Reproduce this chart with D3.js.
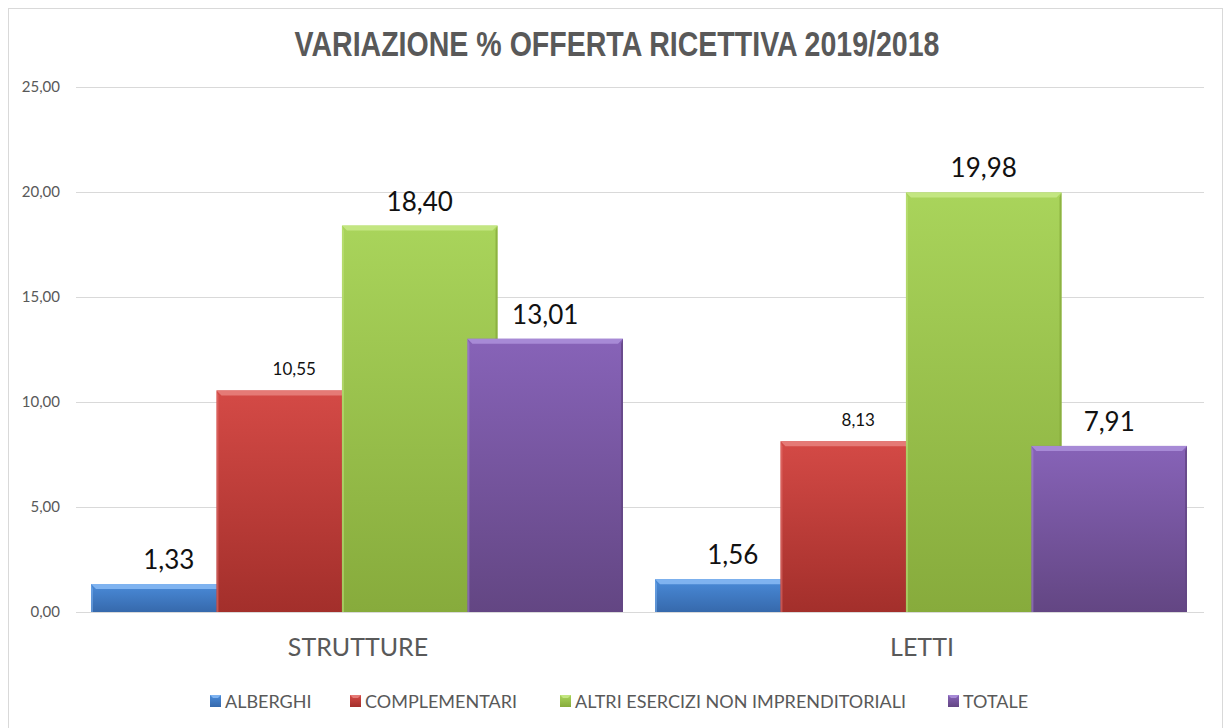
<!DOCTYPE html>
<html>
<head>
<meta charset="utf-8">
<script src="https://cdn.jsdelivr.net/npm/d3@7"></script>
<style>
  body { margin: 0; background: #fff; }
  svg text { font-family: Lato, "Open Sans", sans-serif; }
</style>
</head>
<body>
<div id="chart"></div>
<script>
// data
var categories = ['STRUTTURE', 'LETTI'];
var series = ['ALBERGHI', 'COMPLEMENTARI', 'ALTRI ESERCIZI NON IMPRENDITORIALI', 'TOTALE'];
var alberghi = [1.33, 1.56];
var complementari = [10.55, 8.13];
var altri = [18.40, 19.98];
var totale = [13.01, 7.91];
var yTicks = [0, 5, 10, 15, 20, 25];

var values = [alberghi, complementari, altri, totale];
// top / bottom colour of each series' gradient
var colTop = ['#4a8bd9', '#d44a46', '#a9d45b', '#8763b8'];
var colBot = ['#3669ac', '#a32f2b', '#87ab3c', '#634683'];
var colHi  = ['#7fb3f0', '#e57a76', '#c3e681', '#a78ad6'];
// the small labels (COMPLEMENTARI) vs the big ones
var labelSize = [26, 17, 26, 26];

var W = 1225, H = 728;
var margin = { top: 87, right: 21, bottom: 116, left: 76 };
var width = W - margin.left - margin.right,
    height = H - margin.top - margin.bottom;

var svg = d3.select('#chart').append('svg')
    .attr('width', W)
    .attr('height', H);

svg.append('rect')
    .attr('x', 8.5).attr('y', 8.5)
    .attr('width', 1214).attr('height', 740)
    .attr('fill', '#fff')
    .attr('stroke', '#d9d9d9');

var defs = svg.append('defs');
series.forEach(function (s, i) {
    var g = defs.append('linearGradient')
        .attr('id', 'grad-' + i)
        .attr('x1', 0).attr('y1', 0).attr('x2', 0).attr('y2', 1);
    g.append('stop').attr('offset', '0%').attr('stop-color', colTop[i]);
    g.append('stop').attr('offset', '100%').attr('stop-color', colBot[i]);
});

var it = d3.formatLocale({ decimal: ',', thousands: '.', grouping: [3], currency: ['€', ''] });
var fmt = it.format('.2f');

var plot = svg.append('g')
    .attr('transform', 'translate(' + margin.left + ',' + margin.top + ')');

var x0 = d3.scaleBand()
    .domain(categories)
    .range([0, width])
    .padding(0);

// bars overlap each other, hence the negative inner padding
var x1 = d3.scaleBand()
    .domain(series)
    .range([15, x0.bandwidth() - 17])
    .paddingInner(-0.24)
    .paddingOuter(0);

var y = d3.scaleLinear()
    .domain([0, 25])
    .range([height, 0]);

// grid
plot.append('g')
    .call(d3.axisLeft(y).tickValues(yTicks).tickSize(-width).tickFormat(fmt).tickPadding(16))
    .call(function (g) {
        g.select('.domain').remove();
        g.selectAll('.tick line').attr('stroke', '#d9d9d9');
        g.selectAll('.tick text')
            .attr('fill', '#595959')
            .style('font-size', '15px');
    });

// bars
categories.forEach(function (c, ci) {
    var grp = plot.append('g').attr('transform', 'translate(' + x0(c) + ',0)');
    series.forEach(function (s, si) {
        var v = values[si][ci];
        var bx = x1(s), bw = x1.bandwidth(), by = y(v), bh = y(0) - y(v);
        var b = 5;
        grp.append('rect')
            .attr('x', bx).attr('y', by)
            .attr('width', bw).attr('height', bh)
            .attr('fill', 'url(#grad-' + si + ')');
        // bevel: light top, darker right edge
        grp.append('path')
            .attr('d', 'M' + bx + ',' + by + 'L' + (bx + bw) + ',' + by +
                'L' + (bx + bw - b) + ',' + (by + Math.min(b, bh)) + 'L' + (bx + b) + ',' + (by + Math.min(b, bh)) + 'Z')
            .attr('fill', colHi[si]);
        grp.append('path')
            .attr('d', 'M' + (bx + bw) + ',' + by + 'L' + (bx + bw) + ',' + (by + bh) +
                'L' + (bx + bw - 2) + ',' + (by + bh) + 'L' + (bx + bw - 2) + ',' + (by + Math.min(b, bh)) + 'Z')
            .attr('fill', colBot[si])
            .attr('opacity', 0.8);
        grp.append('path')
            .attr('d', 'M' + bx + ',' + by + 'L' + bx + ',' + (by + bh) +
                'L' + (bx + 2) + ',' + (by + bh) + 'L' + (bx + 2) + ',' + (by + Math.min(b, bh)) + 'Z')
            .attr('fill', colHi[si])
            .attr('opacity', 0.5);
        grp.append('text')
            .attr('x', bx + bw / 2)
            .attr('y', by - 15)
            .attr('text-anchor', 'middle')
            .attr('fill', '#111')
            .style('font-size', labelSize[si] + 'px')
            .text(fmt(v));
    });
});

// category axis
plot.append('g')
    .attr('transform', 'translate(0,' + height + ')')
    .call(d3.axisBottom(x0).tickSize(0).tickPadding(26))
    .call(function (g) {
        g.select('.domain').remove();
        g.selectAll('.tick text')
            .attr('fill', '#595959')
            .style('font-size', '25px')
            .attr('dy', '0.71em');
    });

// title (condensed bold face is not installed, so squeeze it)
svg.append('text')
    .attr('x', 617)
    .attr('y', 56)
    .attr('text-anchor', 'middle')
    .attr('fill', '#595959')
    .attr('textLength', 645)
    .attr('lengthAdjust', 'spacingAndGlyphs')
    .style('font-family', '"Liberation Sans", sans-serif')
    .style('font-weight', 'bold')
    .style('font-size', '35px')
    .text('VARIAZIONE % OFFERTA RICETTIVA 2019/2018');

// legend
var legendX = [210, 350, 560, 948];
var legend = svg.append('g');
series.forEach(function (s, i) {
    var lg = legend.append('g').attr('transform', 'translate(' + legendX[i] + ',695)');
    lg.append('rect')
        .attr('width', 11).attr('height', 12)
        .attr('fill', 'url(#grad-' + i + ')');
    lg.append('path')
        .attr('d', 'M0,0L11,0L8,3L3,3Z')
        .attr('fill', colHi[i]);
    lg.append('text')
        .attr('x', 15).attr('y', 13)
        .attr('fill', '#595959')
        .style('font-size', '18px')
        .text(s);
});
</script>
</body>
</html>
